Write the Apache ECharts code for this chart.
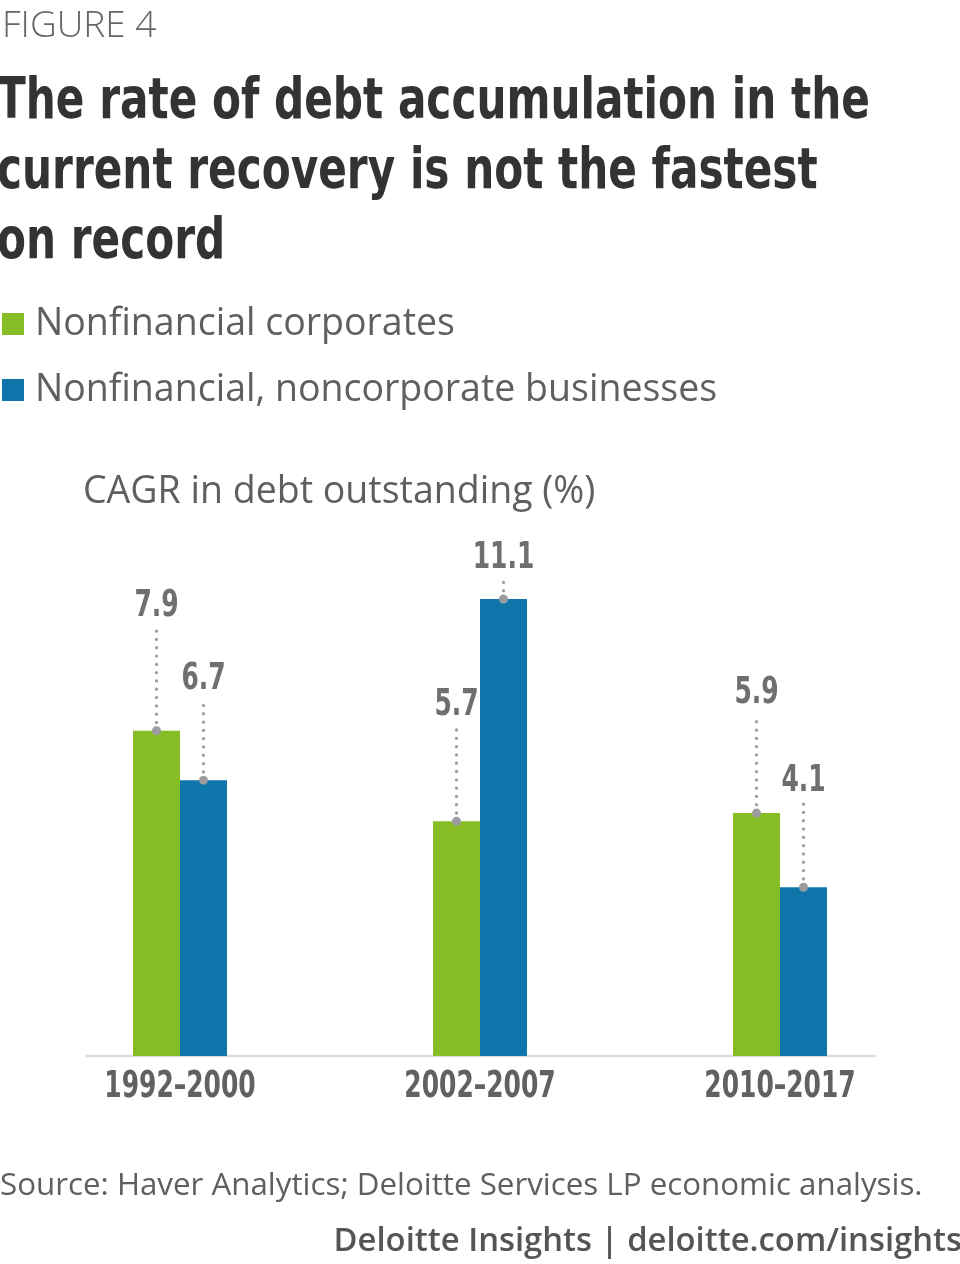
<!DOCTYPE html>
<html>
<head>
<meta charset="utf-8">
<script src="https://cdn.jsdelivr.net/npm/echarts@6/dist/echarts.min.js"></script>
<style>html,body{margin:0;padding:0;background:#fff;}#c{width:960px;height:1264px;}</style>
</head>
<body>
<div id="c"></div>
<script>
var categories = ['1992–2000', '2002–2007', '2010–2017'];
var seriesNames = ['Nonfinancial corporates', 'Nonfinancial, noncorporate businesses'];
var corporates = [7.9, 5.7, 5.9];
var noncorporate = [6.7, 11.1, 4.1];

// styling: how far above each bar top its value label is centred (px)
var labelRiseCorp = [128, 120, 124];
var labelRiseNonCorp = [105, 45, 110];

var GREEN = '#86BC25', BLUE = '#0F76AC';
var COND = '"DejaVu Sans Condensed", "DejaVu Sans", sans-serif';
var SANS = '"Open Sans", "Noto Sans", sans-serif';
var BAR_W = 47;
var NUM_FONT = 'bold 37px ' + COND;
var NUM_SCALE = 0.75;

function labelSeries(vals, rises, side) {
  return {
    type: 'custom',
    silent: true,
    z: 5,
    data: vals.map(function (v, i) { return [i, v]; }),
    renderItem: function (params, api) {
      var i = api.value(0);
      var v = api.value(1);
      var p = api.coord([i, v]);
      var x = p[0] + side * BAR_W / 2;
      var rise = rises[params.dataIndex];
      var cy = p[1] - rise;
      return {
        type: 'group',
        children: [
          { type: 'line', shape: { x1: x, y1: p[1], x2: x, y2: cy + 27 },
            style: { stroke: '#9a9ca0', lineWidth: 3.2, lineDash: [0.1, 8.2], lineCap: 'round' } },
          { type: 'circle', shape: { cx: x, cy: p[1], r: 4.5 }, style: { fill: '#9a9ca0' } },
          { type: 'text', x: x, y: cy + 4, scaleX: NUM_SCALE,
            style: { text: v.toFixed(1), x: 0, y: 0, align: 'center', verticalAlign: 'middle',
                     font: NUM_FONT, fill: '#6f6f6f' } }
        ]
      };
    }
  };
}

var categoryLabelSeries = {
  type: 'custom',
  silent: true,
  data: categories.map(function (c, i) { return [i, 0]; }),
  renderItem: function (params, api) {
    var p = api.coord([api.value(0), 0]);
    return {
      type: 'text', x: p[0], y: p[1] + 31, scaleX: NUM_SCALE,
      style: { text: categories[params.dataIndex], x: 0, y: 0, align: 'center', verticalAlign: 'middle',
               font: NUM_FONT, fill: '#616161' }
    };
  }
};

var chart = echarts.init(document.getElementById('c'));

chart.setOption({
  animation: false,
  title: [
    { text: 'FIGURE 4', left: -3, top: 3,
      textStyle: { fontFamily: SANS, fontWeight: 300, fontSize: 37, color: '#666' } },
    { text: 'CAGR in debt outstanding (%)', left: 78, top: 468,
      textStyle: { fontFamily: SANS, fontWeight: 'normal', fontSize: 37.5, color: '#5f5f5f' } },
    { text: 'Source: Haver Analytics; Deloitte Services LP economic analysis.', left: -5, top: 1166,
      textStyle: { fontFamily: SANS, fontWeight: 'normal', fontSize: 31.3, color: '#5f5f5f' } },
    { text: 'Deloitte Insights | deloitte.com/insights', right: -7, top: 1220,
      textStyle: { fontFamily: SANS, fontWeight: 600, fontSize: 32.8, color: '#555' } }
  ],
  graphic: [
    { type: 'text', x: -3, y: 68, scaleX: 0.823,
      style: { text: 'The rate of debt accumulation in the\ncurrent recovery is not the fastest\non record',
               font: 'bold 57px ' + COND, lineHeight: 70, fill: '#333', verticalAlign: 'top' } },
    { type: 'line', shape: { x1: 85, y1: 1056, x2: 876, y2: 1056 },
      style: { stroke: '#dcdcdc', lineWidth: 2.5 }, z: 0 }
  ],
  legend: {
    orient: 'vertical', left: 2, top: 305, padding: 0,
    icon: 'rect', itemWidth: 22, itemHeight: 22, itemGap: 28,
    selectedMode: false,
    textStyle: { fontFamily: SANS, fontSize: 37.5, color: '#5f5f5f', padding: [0, 0, 0, 6] },
    data: seriesNames
  },
  grid: { left: 30, right: 30, top: 562, bottom: 208, containLabel: false },
  xAxis: {
    type: 'category', data: categories,
    axisLine: { show: false }, axisTick: { show: false }, axisLabel: { show: false }
  },
  yAxis: { type: 'value', min: 0, max: 12, show: false, splitLine: { show: false } },
  series: [
    { name: seriesNames[0], type: 'bar', barWidth: BAR_W, barGap: 0,
      itemStyle: { color: GREEN }, data: corporates },
    { name: seriesNames[1], type: 'bar', barWidth: BAR_W, barGap: 0,
      itemStyle: { color: BLUE }, data: noncorporate },
    labelSeries(corporates, labelRiseCorp, -1),
    labelSeries(noncorporate, labelRiseNonCorp, 1),
    categoryLabelSeries
  ]
});
</script>
</body>
</html>
